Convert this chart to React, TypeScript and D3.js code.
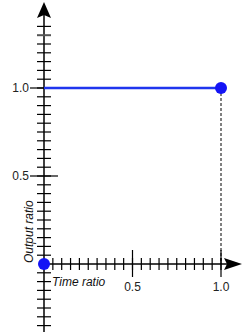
import React from "react";
import * as d3 from "d3";

// values
const lineTime = [0, 1];
const lineOutput = [1, 1];
const dotTime = [0, 1];
const dotOutput = [0, 1];
const majorTicks = [0.5, 1.0];
const tickLabels = ["0.5", "1.0"];
const xMinorSteps = d3.range(1, 21); // multiples of 0.05
const yMinorSteps = d3.range(-7, 28);
const grayTick = 1.3;

const App = () => {
  const width = 248;
  const height = 332;

  const x = d3.scaleLinear().domain([0, 1]).range([44, 221]);
  const y = d3.scaleLinear().domain([0, 1]).range([264, 88]);

  const line = d3
    .line<number>()
    .x((d, i) => x(lineTime[i]))
    .y((d) => y(d));

  const ox = x(0);
  const oy = y(0);
  const font = "Arial, 'Liberation Sans', Helvetica, sans-serif";

  return (
    <svg
      width={width}
      height={height}
      style={{ position: "absolute", left: 0, top: 0, background: "#fff" }}
    >
      {/* y axis */}
      <line x1={ox} x2={ox} y1={10} y2={height} stroke="#000" strokeWidth={1.5} />
      <path
        d={`M${ox},2 L${ox + 7},18 L${ox},15 L${ox - 7},18 Z`}
        fill="#000"
      />
      {yMinorSteps.map((i) => {
        const v = i * 0.05;
        if (Math.abs(v) < 1e-9) return null;
        const gray = Math.abs(v - grayTick) < 1e-6;
        return (
          <line
            key={"ym" + i}
            x1={ox - 7}
            x2={ox + 7}
            y1={y(v)}
            y2={y(v)}
            stroke={gray ? "#555" : "#000"}
            strokeWidth={gray ? 2 : 1.2}
          />
        );
      })}
      {majorTicks.map((v, i) => (
        <g key={"yM" + i}>
          <line x1={ox - 14} x2={ox + 14} y1={y(v)} y2={y(v)} stroke="#000" strokeWidth={1.2} />
          <text
            x={ox - 15}
            y={y(v) + 4}
            textAnchor="end"
            fontFamily={font}
            fontSize={12}
            fill="#222"
          >
            {tickLabels[i]}
          </text>
        </g>
      ))}

      {/* x axis */}
      <line x1={ox} x2={228} y1={oy} y2={oy} stroke="#000" strokeWidth={1.5} />
      <path
        d={`M242,${oy} L224,${oy - 6} L227,${oy} L224,${oy + 6} Z`}
        fill="#000"
      />
      {xMinorSteps.map((i) => {
        const v = i * 0.05;
        return (
          <line
            key={"xm" + i}
            x1={x(v)}
            x2={x(v)}
            y1={oy - 6}
            y2={oy + 6}
            stroke="#000"
            strokeWidth={1.2}
          />
        );
      })}
      {majorTicks.map((v, i) => (
        <g key={"xM" + i}>
          <line x1={x(v)} x2={x(v)} y1={oy - 14} y2={oy + 13} stroke="#000" strokeWidth={1.2} />
          <text
            x={x(v)}
            y={oy + 27}
            textAnchor="middle"
            fontFamily={font}
            fontSize={12}
            fill="#222"
          >
            {tickLabels[i]}
          </text>
        </g>
      ))}

      {/* guide */}
      <line
        x1={x(1)}
        x2={x(1)}
        y1={y(1)}
        y2={oy}
        stroke="#000"
        strokeWidth={1}
        strokeDasharray="3,2"
      />

      {/* series */}
      <path d={line(lineOutput) || ""} fill="none" stroke="#1f36ee" strokeWidth={2.5} />
      {dotTime.map((t, i) => (
        <circle key={"d" + i} cx={x(t)} cy={y(dotOutput[i])} r={6} fill="#1414f5" />
      ))}

      {/* axis titles */}
      <text
        x={52}
        y={oy + 22}
        fontFamily={font}
        fontSize={12}
        fontStyle="italic"
        fill="#111"
      >
        Time ratio
      </text>
      <text
        transform={`translate(33,${oy - 1}) rotate(-90)`}
        fontFamily={font}
        fontSize={12}
        fontStyle="italic"
        fill="#111"
      >
        Output ratio
      </text>
    </svg>
  );
};

export default App;
